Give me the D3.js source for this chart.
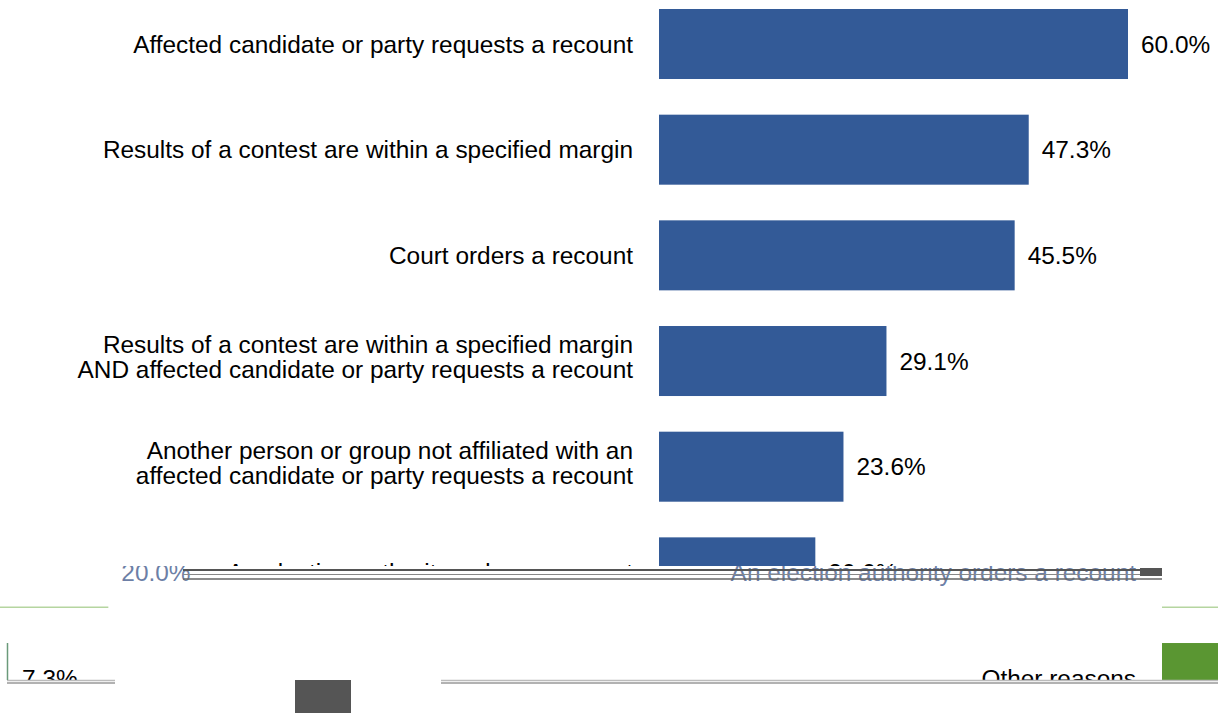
<!DOCTYPE html>
<html>
<head>
<meta charset="utf-8">
<script src="https://cdn.jsdelivr.net/npm/d3@7"></script>
<style>
  body { margin: 0; background: #fff; }
  svg { display: block; font-family: "Liberation Sans", Arial, sans-serif; }
</style>
</head>
<body>
<svg id="chart" width="1218" height="713"></svg>
<script>
// recount triggers, share of jurisdictions
var categories = [
  "Affected candidate or party requests a recount",
  "Results of a contest are within a specified margin",
  "Court orders a recount",
  "Results of a contest are within a specified margin\nAND affected candidate or party requests a recount",
  "Another person or group not affiliated with an\naffected candidate or party requests a recount",
  "An election authority orders a recount",
  "Other reasons"
];
var values = [60.0, 47.3, 45.5, 29.1, 23.6, 20.0, 7.3];

var W = 1218, H = 713;
var FS = 24.4;
var svg = d3.select('#chart');

var x = d3.scaleLinear().domain([0, 60]).range([659, 1128]);
var y = d3.scaleBand().domain(categories).range([-26.66, 748.7]).padding(0.3375);

var rows = categories.map(function (c, i) { return { cat: c, val: values[i], i: i }; });

// clip paths
var defs = svg.append('defs');
defs.append('clipPath').attr('id', 'clipTop')
  .append('rect').attr('x', 0).attr('y', 0).attr('width', W).attr('height', 566);
defs.append('clipPath').attr('id', 'clipBand')
  .append('rect').attr('x', 0).attr('y', 566).attr('width', W).attr('height', 114);

function drawRows(g, data, opts) {
  opts = opts || {};
  var row = g.selectAll('g.row').data(data).enter().append('g').attr('class', 'row');
  row.append('rect')
    .attr('x', x(0))
    .attr('y', function (d) { return y(d.cat); })
    .attr('width', function (d) { return x(d.val) - x(0); })
    .attr('height', y.bandwidth())
    .attr('fill', function (d) { return opts.fill ? opts.fill(d) : '#335a97'; });
  row.append('text')
    .attr('text-anchor', 'end')
    .attr('font-size', FS)
    .attr('fill', function (d) { return opts.textFill ? opts.textFill(d) : '#000'; })
    .each(function (d) {
      var lines = d.cat.split('\n');
      var cy = y(d.cat) + y.bandwidth() / 2 + (lines.length > 1 ? -4 : 0);
      var t = d3.select(this);
      lines.forEach(function (ln, k) {
        t.append('tspan')
          .attr('x', x(0) - 26)
          .attr('y', cy + (k - (lines.length - 1) / 2) * 25)
          .attr('dy', '0.35em')
          .text(ln);
      });
    });
  row.append('text')
    .attr('x', function (d) { return x(d.val) + 13; })
    .attr('y', function (d) { return y(d.cat) + y.bandwidth() / 2; })
    .attr('dy', '0.35em')
    .attr('font-size', FS)
    .attr('fill', function (d) { return opts.textFill ? opts.textFill(d) : '#000'; })
    .text(function (d) { return d.val.toFixed(1) + '%'; });
  return row;
}

// main chart, cut off where the render breaks
var topG = svg.append('g').attr('clip-path', 'url(#clipTop)');
drawRows(topG, rows.slice(0, 6));

// broken lower part: rows slid sideways and wrapped
var band = svg.append('g').attr('clip-path', 'url(#clipBand)');
[503, -707].forEach(function (dx) {
  var g = band.append('g').attr('transform', 'translate(' + dx + ',0)');
  drawRows(g, rows.slice(5), {
    fill: function (d) { return d.i === 6 && dx > 0 ? '#5a9632' : 'none'; },
    textFill: function (d) { return d.i === 6 ? '#000' : '#6d7fa6'; }
  });
  var r6 = rows[5];
  g.append('line')
    .attr('x1', x(0)).attr('x2', x(r6.val))
    .attr('y1', y(r6.cat) + y.bandwidth()).attr('y2', y(r6.cat) + y.bandwidth())
    .attr('stroke', '#b5d5a0').attr('stroke-width', 1.5);
});

// streaks
var streaks = [
  { y: 570, x1: 183, x2: 1162, c: '#555', w: 2 },
  { y: 574.5, x1: 183, x2: 1162, c: '#888', w: 1 },
  { y: 579, x1: 183, x2: 1162, c: '#666', w: 1.5 },
  { y: 680.5, x1: 7, x2: 115, c: '#bbb', w: 1.5 },
  { y: 683, x1: 7, x2: 115, c: '#999', w: 1.5 },
  { y: 680.5, x1: 441, x2: W, c: '#bbb', w: 1.5 },
  { y: 683, x1: 441, x2: W, c: '#999', w: 1.5 }
];
svg.append('g').selectAll('line').data(streaks).enter().append('line')
  .attr('x1', function (d) { return d.x1; }).attr('x2', function (d) { return d.x2; })
  .attr('y1', function (d) { return d.y; }).attr('y2', function (d) { return d.y; })
  .attr('stroke', function (d) { return d.c; })
  .attr('stroke-width', function (d) { return d.w; });

svg.append('rect')
  .attr('x', 1140).attr('y', 568).attr('width', 22).attr('height', 8)
  .attr('fill', '#555');

svg.append('line')
  .attr('x1', 7.5).attr('x2', 7.5).attr('y1', 643).attr('y2', 680)
  .attr('stroke', '#6a9a7a').attr('stroke-width', 1.5);

svg.append('rect')
  .attr('x', 295).attr('y', 680).attr('width', 56).attr('height', H - 680)
  .attr('fill', '#555');
</script>
</body>
</html>
